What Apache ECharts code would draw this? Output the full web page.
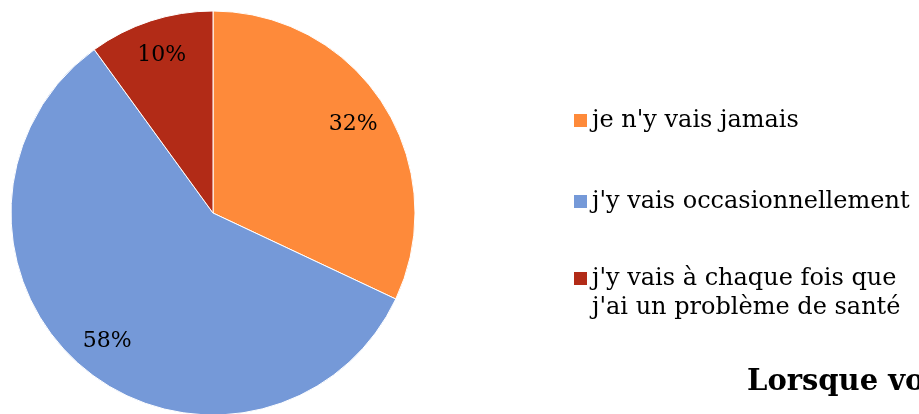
<!DOCTYPE html>
<html>
<head>
<meta charset="utf-8">
<script src="https://cdn.jsdelivr.net/npm/echarts@6/dist/echarts.min.js"></script>
<style>
  html, body { margin: 0; padding: 0; background: #fff; }
  #chart { width: 919px; height: 414px; }
</style>
</head>
<body>
<div id="chart"></div>
<script>
const categories = [
  "je n'y vais jamais",
  "j'y vais occasionnellement",
  "j'y vais à chaque fois que\nj'ai un problème de santé"
];
const shares = [32, 58, 10];
const colors = ['#FE8A3A', '#7599D8', '#B22B17'];
const titleText = 'Lorsque vous êtes malade, allez-vous chez le médecin ?';

const font = 'DejaVu Serif';
const pieData = categories.map((name, i) => ({
  name: name,
  value: shares[i],
  itemStyle: { color: colors[i] }
}));

const legendBase = {
  orient: 'vertical',
  left: 574,
  itemWidth: 13,
  itemHeight: 13,
  icon: 'rect',
  padding: 0,
  itemStyle: { borderWidth: 0 },
  textStyle: { fontFamily: font, fontSize: 24, lineHeight: 29, color: '#000' }
};

const chart = echarts.init(document.getElementById('chart'));
chart.setOption({
  animation: false,
  title: {
    text: titleText,
    left: 747,
    top: 368,
    padding: 0,
    textStyle: { fontFamily: font, fontWeight: 'bold', fontSize: 29, color: '#000' }
  },
  legend: [
    Object.assign({}, legendBase, {
      top: 106,
      itemGap: 52,
      data: categories.slice(0, 2)
    }),
    Object.assign({}, legendBase, {
      top: 235,
      data: [categories[2]],
      // empty first line keeps the swatch level with the first text line
      formatter: (name) => '\n' + name
    })
  ],
  series: [
    {
      type: 'pie',
      center: [213, 213],
      radius: 202,
      startAngle: 90,
      clockwise: true,
      label: { show: false },
      labelLine: { show: false },
      itemStyle: { borderColor: '#fff', borderWidth: 1 },
      data: pieData
    },
    {
      // invisible ring used only to place the percent labels
      type: 'pie',
      silent: true,
      center: [213, 213],
      radius: [124, 202],
      startAngle: 90,
      clockwise: true,
      itemStyle: { color: 'transparent' },
      label: {
        show: true,
        position: 'inside',
        formatter: '{c}%',
        fontFamily: font,
        fontSize: 22,
        color: '#000'
      },
      labelLine: { show: false },
      data: categories.map((name, i) => ({ name: name, value: shares[i] }))
    }
  ]
});
</script>
</body>
</html>
